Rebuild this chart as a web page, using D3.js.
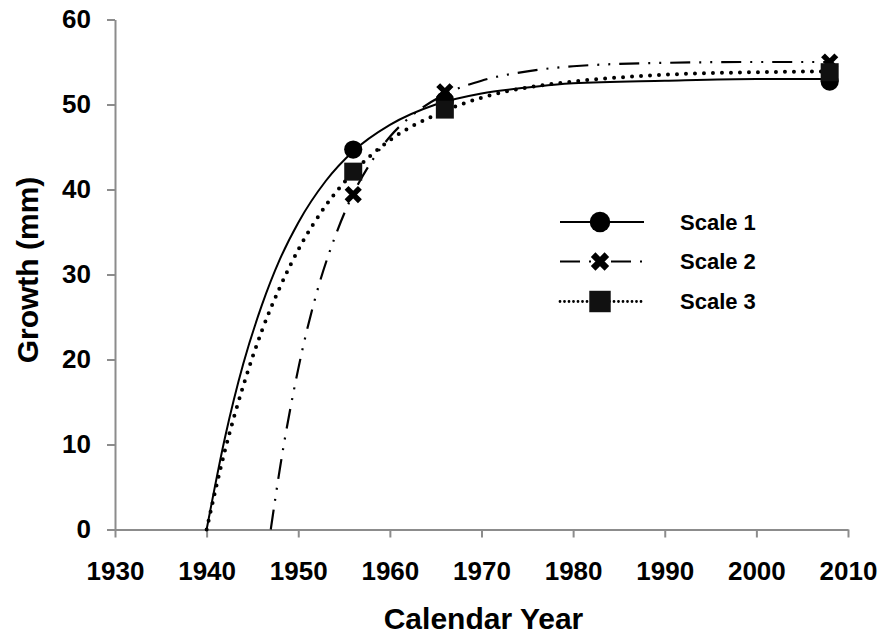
<!DOCTYPE html>
<html>
<head>
<meta charset="utf-8">
<script src="https://cdn.jsdelivr.net/npm/d3@7"></script>
<style>
  html, body { margin: 0; padding: 0; background: #fff; }
  svg { display: block; font-family: 'Liberation Sans', Arial, sans-serif; font-weight: bold; }
  .axis path, .axis line { stroke: #8c8c8c; stroke-width: 2; }
  .axis text { fill: #000; font-size: 26px; font-weight: bold; font-family: 'Liberation Sans', Arial, sans-serif; }
</style>
</head>
<body>
<svg id="chart"></svg>
<script>
(function () {
  'use strict';

  // fitted growth curves (year, mm)
  var curveYears1 = [1940, 1942, 1944, 1946, 1948, 1950, 1953, 1956, 1960, 1965, 1970, 1975, 1980, 1990, 2000, 2008];
  var curveValues1 = [0, 10.8, 19.5, 26.3, 31.8, 36.1, 41.0, 44.5, 47.6, 50.0, 51.3, 52.0, 52.5, 52.8, 53.0, 53.0];

  var curveYears2 = [1947, 1948, 1950, 1952, 1954, 1956, 1958, 1960, 1963, 1966, 1970, 1975, 1980, 1990, 2000, 2008];
  var curveValues2 = [0, 7.2, 18.9, 27.8, 34.4, 39.5, 43.3, 46.2, 49.2, 51.2, 52.8, 53.9, 54.5, 54.9, 55.0, 55.0];

  var curveYears3 = [1940, 1942, 1944, 1946, 1948, 1950, 1953, 1956, 1960, 1965, 1970, 1975, 1980, 1990, 2000, 2008];
  var curveValues3 = [0, 9.3, 16.9, 23.3, 28.5, 32.9, 38.1, 42.0, 45.8, 48.8, 50.8, 52.0, 52.7, 53.5, 53.8, 53.9];

  // measured points
  var pointYears = [1956, 1966, 2008];
  var pointValues1 = [44.7, 50.5, 52.7];
  var pointValues2 = [39.4, 51.5, 55.0];
  var pointValues3 = [42.1, 49.4, 53.8];

  var seriesNames = ['Scale 1', 'Scale 2', 'Scale 3'];
  var xTicks = [1930, 1940, 1950, 1960, 1970, 1980, 1990, 2000, 2010];
  var yTicks = [0, 10, 20, 30, 40, 50, 60];

  var width = 881;
  var height = 635;
  var margin = {top: 19.5, right: 33, bottom: 105.5, left: 115};
  var innerWidth = width - margin.left - margin.right;
  var innerHeight = height - margin.top - margin.bottom;

  var svg = d3.select('#chart')
    .attr('width', width)
    .attr('height', height);

  var g = svg.append('g')
    .attr('transform', 'translate(' + margin.left + ',' + margin.top + ')');

  var x = d3.scaleLinear().domain([1930, 2010]).range([0, innerWidth]);
  var y = d3.scaleLinear().domain([0, 60]).range([innerHeight, 0]);

  // axes
  g.append('g')
    .attr('class', 'axis axis--x')
    .attr('transform', 'translate(0,' + innerHeight + ')')
    .call(d3.axisBottom(x).tickValues(xTicks).tickFormat(d3.format('d'))
      .tickSize(8).tickSizeOuter(0).tickPadding(24));

  g.append('g')
    .attr('class', 'axis axis--y')
    .call(d3.axisLeft(y).tickValues(yTicks).tickSize(8).tickSizeOuter(0).tickPadding(16));

  svg.append('text')
    .attr('transform', 'translate(27,270) rotate(-90)')
    .attr('text-anchor', 'middle')
    .attr('dy', '0.36em')
    .style('font-size', '30px')
    .text('Growth (mm)');

  svg.append('text')
    .attr('x', margin.left + innerWidth / 2 + 2)
    .attr('y', 629)
    .attr('text-anchor', 'middle')
    .style('font-size', '30px')
    .text('Calendar Year');

  var styles = [
    {width: 2, dash: null, cap: 'butt', legendDash: null, legendWidth: 2},
    {width: 2.2, dash: '20,9,2,9,2,9', cap: 'butt', legendDash: '20,9,2,9,2,9', legendWidth: 2.2},
    {width: 4, dash: '0,9', cap: 'round', legendDash: '0,4.5', legendWidth: 2.8}
  ];

  var curves = [
    d3.zip(curveYears1, curveValues1),
    d3.zip(curveYears2, curveValues2),
    d3.zip(curveYears3, curveValues3)
  ];
  var points = [
    d3.zip(pointYears, pointValues1),
    d3.zip(pointYears, pointValues2),
    d3.zip(pointYears, pointValues3)
  ];

  var line = d3.line()
    .x(function (d) { return x(d[0]); })
    .y(function (d) { return y(d[1]); })
    .curve(d3.curveMonotoneX);

  g.selectAll('.series')
    .data(curves)
    .enter()
    .append('path')
    .attr('class', 'series')
    .attr('d', line)
    .style('fill', 'none')
    .style('stroke', '#000')
    .style('stroke-width', function (d, i) { return styles[i].width; })
    .style('stroke-linecap', function (d, i) { return styles[i].cap; })
    .style('stroke-dasharray', function (d, i) { return styles[i].dash; });

  // markers: circle, X, square
  function marker(sel, i, big) {
    if (i === 0) {
      sel.append('path')
        .attr('d', d3.symbol().type(d3.symbolCircle).size(big ? 330 : 260)())
        .style('fill', '#000');
    } else if (i === 1) {
      sel.append('path')
        .attr('d', d3.symbol().type(d3.symbolX).size(big ? 125 : 118)())
        .style('fill', 'none')
        .style('stroke', '#000')
        .style('stroke-width', big ? 6.5 : 5.5);
    } else {
      sel.append('path')
        .attr('d', d3.symbol().type(d3.symbolSquare).size(big ? 460 : 324)())
        .style('fill', '#111');
    }
  }

  points.forEach(function (pts, i) {
    g.selectAll('.marker-' + i)
      .data(pts)
      .enter()
      .append('g')
      .attr('class', 'marker-' + i)
      .attr('transform', function (d) { return 'translate(' + x(d[0]) + ',' + y(d[1]) + ')'; })
      .each(function () { marker(d3.select(this), i, false); });
  });

  // legend
  var legendY = [222, 261.5, 301.5];
  var legend = svg.selectAll('.legend')
    .data(seriesNames)
    .enter()
    .append('g')
    .attr('class', 'legend')
    .attr('transform', function (d, i) { return 'translate(560,' + legendY[i] + ')'; });

  legend.append('line')
    .attr('x1', 0)
    .attr('x2', 84)
    .style('stroke', '#000')
    .style('stroke-width', function (d, i) { return styles[i].legendWidth; })
    .style('stroke-linecap', function (d, i) { return styles[i].cap; })
    .style('stroke-dasharray', function (d, i) { return styles[i].legendDash; });

  legend.each(function (d, i) {
    var m = d3.select(this).append('g').attr('transform', 'translate(40,0)');
    marker(m, i, true);
  });

  legend.append('text')
    .attr('x', 120)
    .attr('dy', '0.35em')
    .style('font-size', '22px')
    .text(function (d) { return d; });
}());
</script>
</body>
</html>
